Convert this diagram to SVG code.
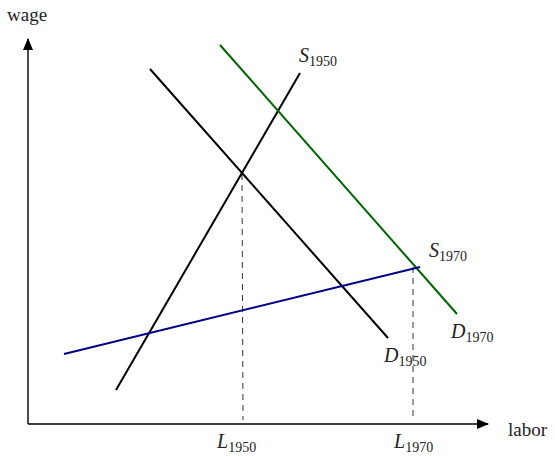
<svg xmlns="http://www.w3.org/2000/svg" width="555" height="456" viewBox="0 0 555 456">
<style>
text{font-family:"Liberation Serif","DejaVu Serif",serif;fill:#222}
.lbl{font-size:19px}
.it{font-style:italic;font-size:20px}
.sub{font-size:14px}
.ax{stroke:#000;stroke-width:1.4;fill:none}
.curve{stroke-width:2;fill:none}
.dash{stroke:#333;stroke-width:1;stroke-dasharray:6,5;fill:none}
</style>
<defs>
<marker id="arr" markerWidth="12" markerHeight="10" refX="11" refY="5" orient="auto" markerUnits="userSpaceOnUse">
<path d="M0,0 L12,5 L0,10 Z" fill="#000"/>
</marker>
</defs>
<g id="axes">
<path class="ax" d="M28,424 L28,39" marker-end="url(#arr)"/>
<path class="ax" d="M28,424 L488,424" marker-end="url(#arr)"/>
<text x="7" y="21" class="lbl">wage</text>
<text x="508" y="436" class="lbl">labor</text>
</g>
<g id="connectors">
<path class="dash" d="M242,174 L243,420"/>
<path class="dash" d="M413,267 L413,420"/>
</g>
<g id="S1950">
<path class="curve" stroke="#000" d="M116,390 L300,73"/>
<text x="299" y="62" class="it">S<tspan class="sub" font-style="normal" dy="4">1950</tspan></text>
</g>
<g id="D1950">
<path class="curve" stroke="#000" d="M150,69 L388,338"/>
<text x="384" y="362" class="it">D<tspan class="sub" font-style="normal" dy="4">1950</tspan></text>
</g>
<g id="D1970">
<path class="curve" stroke="#006400" d="M220,45 L457,314"/>
<text x="451" y="338" class="it">D<tspan class="sub" font-style="normal" dy="4">1970</tspan></text>
</g>
<g id="S1970">
<path class="curve" stroke="#00008B" d="M64,354 L420,267"/>
<text x="429" y="257" class="it">S<tspan class="sub" font-style="normal" dy="4">1970</tspan></text>
</g>
<g id="L1950">
<text x="217" y="448" class="it">L<tspan class="sub" font-style="normal" dy="4">1950</tspan></text>
</g>
<g id="L1970">
<text x="394" y="448" class="it">L<tspan class="sub" font-style="normal" dy="4">1970</tspan></text>
</g>
</svg>
